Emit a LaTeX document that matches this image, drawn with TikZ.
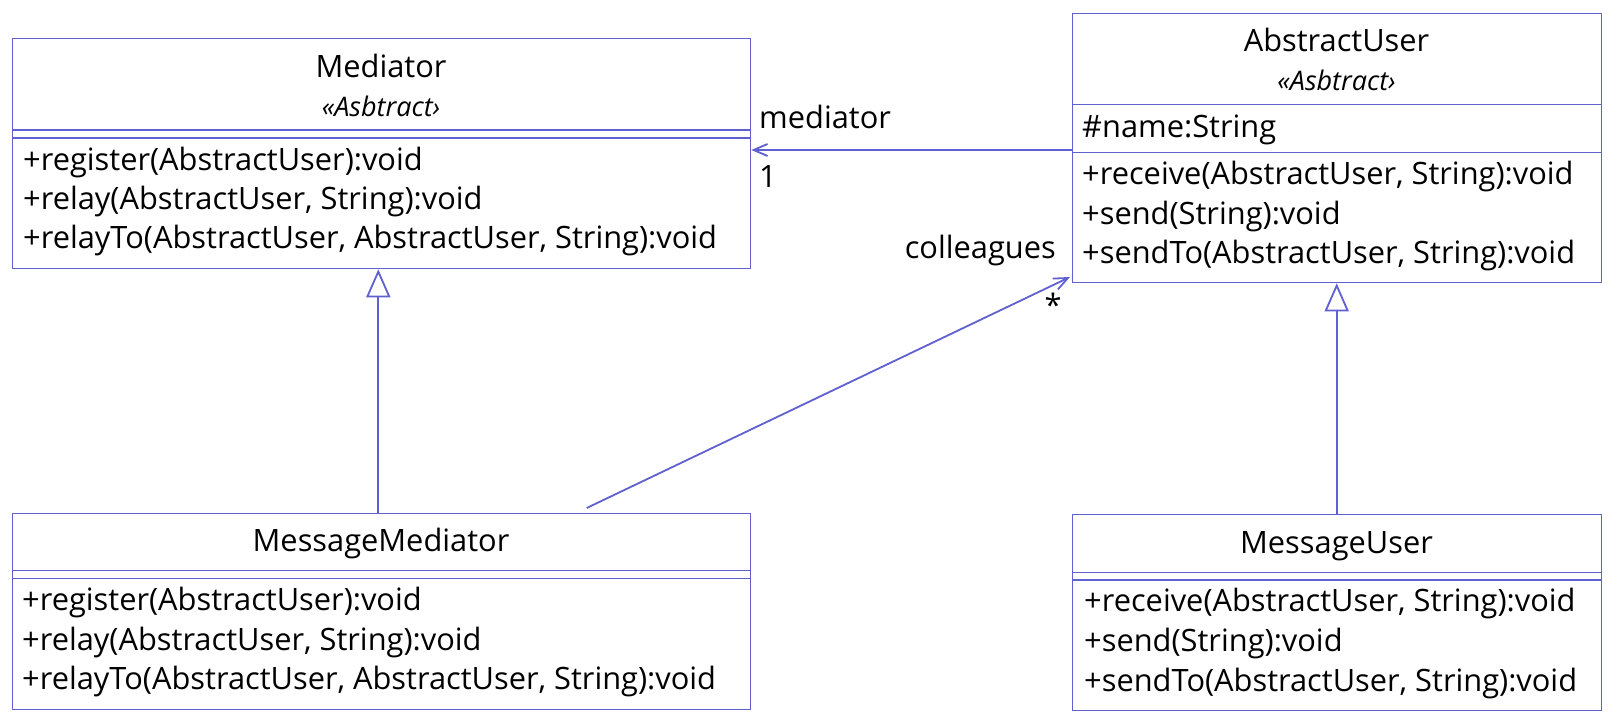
\documentclass[tikz,border=0pt]{standalone}
\usepackage{fontspec}
\setmainfont{Open Sans}
\usetikzlibrary{arrows.meta}
\definecolor{umlblue}{RGB}{96,96,208}
\begin{document}
\begin{tikzpicture}[x=1pt,y=-1pt,
  classbox/.style={draw=umlblue,line width=1.3pt,inner sep=0pt,anchor=north west},
  sepline/.style={draw=umlblue,line width=1.3pt},
  txt/.style={inner sep=0pt,anchor=base west,font=\fontsize{30.8}{36}\selectfont},
  ttl/.style={inner sep=0pt,anchor=base,font=\fontsize{30.8}{36}\selectfont},
  stereo/.style={inner sep=0pt,anchor=base,font=\fontsize{27}{30}\selectfont\itshape},
  lbl/.style={inner sep=0pt,font=\fontsize{30.8}{36}\selectfont},
  assoc/.style={draw=umlblue,line width=1.8pt,-{Straight Barb[length=14pt,width=12pt,line width=1.8pt]}},
  gen/.style={draw=umlblue,line width=1.8pt,-{Triangle[open,length=28pt,width=24pt,line width=1.8pt,fill=white]}}
]
\useasboundingbox (0,0) rectangle (1619,720);

% Mediator
\node[classbox,minimum width=738.5pt,minimum height=230pt] (med) at (11.5,38) {};
\node[ttl] (medt) at (381,77) {Mediator};
\node[stereo] (meds) at (381,116) {«Asbtract›};
\draw[sepline] (med.west |- 0,130) -- (med.east |- 0,130);
\draw[sepline] (med.west |- 0,138) -- (med.east |- 0,138);
\node[txt] (med1) at (23,170) {+register(AbstractUser):void};
\node[txt] (med2) at (23,209) {+relay(AbstractUser, String):void};
\node[txt] (med3) at (23,248) {+relayTo(AbstractUser, AbstractUser, String):void};

% AbstractUser
\node[classbox,minimum width=529pt,minimum height=269.5pt] (au) at (1072,12.5) {};
\node[ttl] (aut) at (1336.5,51) {AbstractUser};
\node[stereo] (aus) at (1336.5,90) {«Asbtract›};
\draw[sepline] (au.west |- 0,104.3) -- (au.east |- 0,104.3);
\node[txt] (aua) at (1082,137) {\#name:String};
\draw[sepline] (au.west |- 0,152.7) -- (au.east |- 0,152.7);
\node[txt] (au1) at (1082,184.5) {+receive(AbstractUser, String):void};
\node[txt] (au2) at (1082,224) {+send(String):void};
\node[txt] (au3) at (1082,263.5) {+sendTo(AbstractUser, String):void};

% MessageMediator
\node[classbox,minimum width=738.5pt,minimum height=196pt] (mm) at (11.5,512.5) {};
\node[ttl] (mmt) at (381,551.7) {MessageMediator};
\draw[sepline] (mm.west |- 0,570.7) -- (mm.east |- 0,570.7);
\draw[sepline] (mm.west |- 0,578.3) -- (mm.east |- 0,578.3);
\node[txt] (mm1) at (22,610.5) {+register(AbstractUser):void};
\node[txt] (mm2) at (22,650) {+relay(AbstractUser, String):void};
\node[txt] (mm3) at (22,689.5) {+relayTo(AbstractUser, AbstractUser, String):void};

% MessageUser
\node[classbox,minimum width=529pt,minimum height=196pt] (mu) at (1072,514) {};
\node[ttl] (mut) at (1336.5,553.3) {MessageUser};
\draw[sepline] (mu.west |- 0,572.3) -- (mu.east |- 0,572.3);
\draw[sepline] (mu.west |- 0,580) -- (mu.east |- 0,580);
\node[txt] (mu1) at (1084,611.5) {+receive(AbstractUser, String):void};
\node[txt] (mu2) at (1084,651.5) {+send(String):void};
\node[txt] (mu3) at (1084,691) {+sendTo(AbstractUser, String):void};

% association mediator
\draw[assoc] (au.west |- 0,150) -- (med.east |- 0,150);
\node[lbl,anchor=base west] (lmed) at (759,128.3) {mediator};
\node[lbl,anchor=base west] (lone) at (759,187.7) {1};

% association colleagues
\coordinate (cs) at (586.7,508);
\coordinate (ce) at (1070,277);
\draw[assoc] (cs) -- (ce);
\node[lbl,anchor=base east] (lcol) at (1056,258.3) {colleagues};
\node[lbl] (lstar) at (1053,305) {*};

% generalizations
\draw[gen] (mm.north -| 378.3,0) -- (med.south -| 378.3,0);
\draw[gen] (mu.north -| 1336.7,0) -- (au.south -| 1336.7,0);
\end{tikzpicture}
\end{document}
